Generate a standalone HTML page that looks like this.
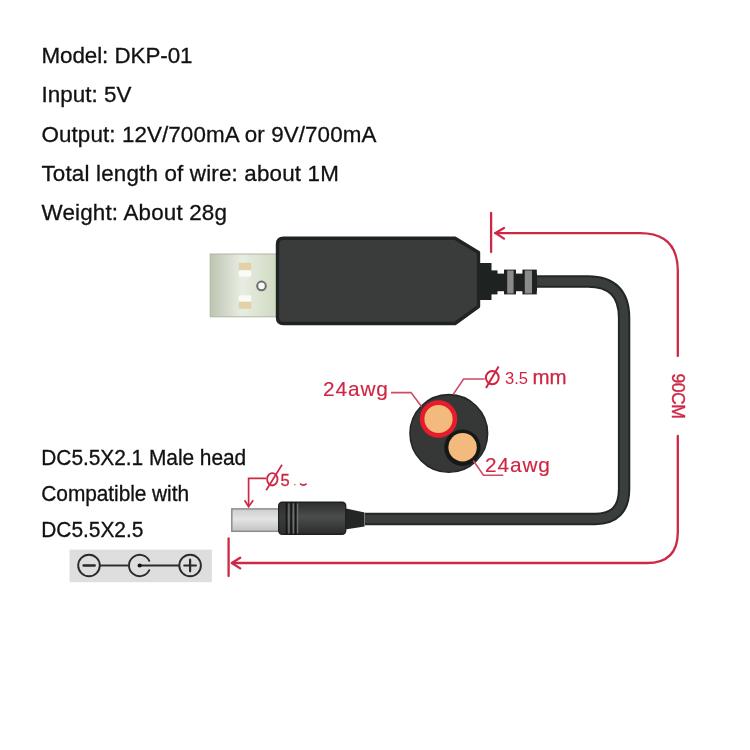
<!DOCTYPE html>
<html><head><meta charset="utf-8">
<style>
html,body{margin:0;padding:0;background:#fff;}
body{width:750px;height:750px;overflow:hidden;position:relative;}
svg{position:absolute;left:0;top:0;will-change:transform;}
text{font-family:"Liberation Sans",sans-serif;}
</style></head>
<body>
<svg width="750" height="750" viewBox="0 0 750 750">
<defs>
  <linearGradient id="metal" x1="0" y1="0" x2="1" y2="0">
    <stop offset="0" stop-color="#bcc4b2"/>
    <stop offset="0.45" stop-color="#e8ede2"/>
    <stop offset="1" stop-color="#cdd8be"/>
  </linearGradient>
  <linearGradient id="dcbody" x1="0" y1="0" x2="0" y2="1">
    <stop offset="0" stop-color="#2c2f2e"/>
    <stop offset="0.45" stop-color="#4a4d4b"/>
    <stop offset="1" stop-color="#2a2d2c"/>
  </linearGradient>
  <linearGradient id="dcmetal" x1="0" y1="0" x2="0" y2="1">
    <stop offset="0" stop-color="#cdcdcd"/>
    <stop offset="0.45" stop-color="#e4e4e4"/>
    <stop offset="1" stop-color="#c2c2c2"/>
  </linearGradient>
</defs>

<!-- top text -->
<g fill="#111" stroke="#111" stroke-width="0.3" font-size="22.4">
  <g transform="translate(0 62.8) scale(1 1.02)"><text id="t1" x="41.5" y="0" textLength="150.97">Model: DKP-01</text></g>
  <g transform="translate(0 102) scale(1 1.02)"><text id="t2" x="41.5" y="0" textLength="90.00">Input: 5V</text></g>
  <g transform="translate(0 141.5) scale(1 1.02)"><text id="t3" x="41.5" y="0" textLength="334.89">Output: 12V/700mA or 9V/700mA</text></g>
  <g transform="translate(0 181) scale(1 1.02)"><text id="t4" x="41.5" y="0" textLength="297.38">Total length of wire: about 1M</text></g>
  <g transform="translate(0 220.4) scale(1 1.02)"><text id="t5" x="41.5" y="0" textLength="185.42">Weight: About 28g</text></g>
</g>

<!-- left bottom text -->
<g fill="#111" stroke="#111" stroke-width="0.3" font-size="20.9">
  <g transform="translate(0 464.6) scale(1 1.04)"><text id="t6" x="41.3" y="0" textLength="204.95">DC5.5X2.1 Male head</text></g>
  <g transform="translate(0 500.6) scale(1 1.04)"><text id="t7" x="41.3" y="0" textLength="147.76">Compatible with</text></g>
  <g transform="translate(0 536.6) scale(1 1.04)"><text id="t8" x="41.3" y="0" textLength="102.04">DC5.5X2.5</text></g>
</g>

<!-- cable -->
<path d="M537 281.5 L588 281.5 Q624.1 281.5 624.1 318 L624.1 489 Q624.1 519 595 519 L365 519" fill="none" stroke="#222725" stroke-width="12.4"/>
<path d="M537 281.5 L588 281.5 Q624.1 281.5 624.1 318 L624.1 489 Q624.1 519 595 519 L365 519" fill="none" stroke="#3a3e3d" stroke-width="8.5"/>

<!-- USB metal -->
<rect x="210.2" y="254" width="70" height="62.8" fill="url(#metal)" stroke="#aeb6a2" stroke-width="1"/>
<rect x="238.7" y="262.7" width="12.6" height="7.5" rx="1" fill="#e3d2a8"/>
<rect x="238.7" y="270.2" width="12.6" height="6.5" rx="2" fill="#fafaf7"/>
<rect x="238.7" y="295.3" width="12.6" height="6.5" rx="2" fill="#fafaf7"/>
<rect x="238.7" y="301.8" width="12.6" height="7" rx="1" fill="#e3d2a8"/>
<circle cx="261.5" cy="285.9" r="4.3" fill="#f8f8f8" stroke="#6c6c6c" stroke-width="2"/>

<!-- USB body -->
<path d="M283.5 238.2 L455 238.2 L478.5 252.5 L478.5 306.5 L455 323.5 L283.5 323.5 Q277.5 323.5 277.5 317.5 L277.5 244.2 Q277.5 238.2 283.5 238.2 Z" fill="#393c3b" stroke="#1f2422" stroke-width="3.4" stroke-linejoin="round"/>

<!-- strain relief -->
<rect x="480" y="263" width="11.5" height="37" fill="#1e2220"/>
<rect x="491" y="270.4" width="6.5" height="24" fill="#1e2220"/>
<rect x="497" y="273.6" width="40" height="17.6" fill="#1e2220"/>
<rect x="504" y="269.6" width="12" height="24.8" fill="#1e2220"/>
<rect x="507.2" y="270.5" width="6.4" height="23" fill="#8a8a8a"/>
<rect x="522.4" y="269.6" width="14.4" height="24.8" fill="#1e2220"/>
<rect x="524.8" y="270.5" width="7.2" height="23" fill="#8a8a8a"/>

<!-- DC plug -->
<rect x="231.8" y="508.9" width="47" height="22.4" fill="url(#dcmetal)" stroke="#8c8c8c" stroke-width="1.5"/>
<path d="M345 508.2 L364.6 512.6 L364.6 526.5 L345 529.5 Z" fill="#232625"/>
<rect x="278.7" y="502.3" width="67" height="32" rx="3.5" fill="url(#dcbody)" stroke="#1f2221" stroke-width="1.4"/>
<rect x="279.4" y="503" width="7" height="30.6" fill="#2f3231" opacity="0.6"/>
<g stroke="#141615" stroke-width="1.6">
<line x1="286.5" y1="502" x2="286.5" y2="534.6"/>
<line x1="291.1" y1="502" x2="291.1" y2="534.6"/>
<line x1="295.6" y1="502" x2="295.6" y2="534.6"/>
</g>
<g stroke="#6d706f" stroke-width="1.3">
<line x1="288.9" y1="503.5" x2="288.9" y2="533.5"/>
<line x1="293.4" y1="503.5" x2="293.4" y2="533.5"/>
<line x1="297.6" y1="503.5" x2="297.6" y2="533.5"/>
</g>

<!-- cross section -->
<circle cx="448.8" cy="433.4" r="38.8" fill="#363837" stroke="#242625" stroke-width="1.6"/>
<circle cx="438.5" cy="419" r="16.4" fill="#f2ba7c" stroke="#e61c2c" stroke-width="4.6"/>
<circle cx="462.4" cy="447.7" r="18.2" fill="#161817"/>
<circle cx="462.6" cy="447.2" r="14.2" fill="#f2ba7c"/>

<!-- red dimension lines -->
<g stroke="#cd2845" fill="none" stroke-width="2.3" stroke-linecap="round" stroke-linejoin="round">
  <line x1="491.1" y1="213" x2="491.1" y2="252"/>
  <path d="M495 233.1 L640 233.1 Q677.8 233.1 677.8 271 L677.8 356"/>
  <path d="M504 228 L495.5 233.1 L504 238.6"/>
  <path d="M677.8 436 L677.8 532 Q677.8 563 647 563 L232 563"/>
  <line x1="228.6" y1="538.5" x2="228.6" y2="576"/>
  <path d="M240.2 557.8 L231.8 563 L240.2 568.4"/>
</g>
<text x="0" y="0" transform="translate(671.8 373.4) rotate(90)" font-size="17.5" fill="#cd2845" stroke="#cd2845" stroke-width="0.4" letter-spacing="-0.4">90CM</text>

<!-- cross-section labels -->
<g stroke="#cf4a62" fill="none" stroke-width="1.6">
  <path d="M391 392.6 L411 392.6 L421.5 406.5"/>
  <path d="M453.2 394.4 L463.6 379 L484.7 379"/>
  <path d="M473.2 460.5 L483.5 475.2 L503.3 475.2"/>
</g>
<g fill="#d02442">
  <text x="323" y="396.1" font-size="20.8" letter-spacing="0.9" stroke="#d02442" stroke-width="0.15">24awg</text>
  <text x="485" y="471.5" font-size="20.8" letter-spacing="0.9" stroke="#d02442" stroke-width="0.15">24awg</text>
  <text x="505" y="384.2" font-size="16.5">3.5</text>
  <text x="532.5" y="384.2" font-size="20.5" stroke="#d02442" stroke-width="0.25">mm</text>
</g>
<g stroke="#d02442" fill="none" stroke-width="2">
  <ellipse cx="492.3" cy="377.6" rx="6.4" ry="6.6"/>
  <line x1="486" y1="387.9" x2="498.6" y2="366.6"/>
</g>

<!-- DC label -->
<g stroke="#cd2845" fill="none" stroke-width="1.7">
  <path d="M266 478.4 L248.6 478.4 L248.6 506"/>
  <path d="M244.6 500.2 L248.6 506.8 L253.2 500.2"/>
  <ellipse cx="272.3" cy="479.3" rx="5.2" ry="6.2" stroke-width="1.8"/>
  <line x1="266.2" y1="490.2" x2="282" y2="464.8" stroke-width="1.7"/>
  <path d="M300 483.6 Q303.3 486.6 306.6 483.6" stroke-width="1.6"/>
</g>
<text x="280.6" y="485.6" font-size="16.5" fill="#cd2845" stroke="#cd2845" stroke-width="0.3">5</text>
<circle cx="294.8" cy="484.6" r="0.9" fill="#e07a8a"/>

<!-- polarity symbol -->
<rect x="69.6" y="549.6" width="142.3" height="32.6" fill="#dedede"/>
<g stroke="#2a2a2a" fill="none" stroke-width="1.9" stroke-linecap="round">
  <circle cx="89" cy="565.5" r="10.8"/>
  <line x1="83.5" y1="565.5" x2="94.8" y2="565.5" stroke-width="2.3"/>
  <line x1="100" y1="565.5" x2="128.5" y2="565.5" stroke-linecap="butt"/>
  <path d="M149.3 560.8 A10.7 10.7 0 1 0 149.3 570.2"/>
  <line x1="140" y1="565.5" x2="179.5" y2="565.5" stroke-linecap="butt"/>
  <circle cx="190.1" cy="565.5" r="10.8"/>
  <line x1="184.3" y1="565.5" x2="195.9" y2="565.5" stroke-width="2.2"/>
  <line x1="190.1" y1="559.7" x2="190.1" y2="571.3" stroke-width="2.2"/>
</g>
<circle cx="139.7" cy="565.5" r="2.1" fill="#111"/>
</svg>
</body></html>
